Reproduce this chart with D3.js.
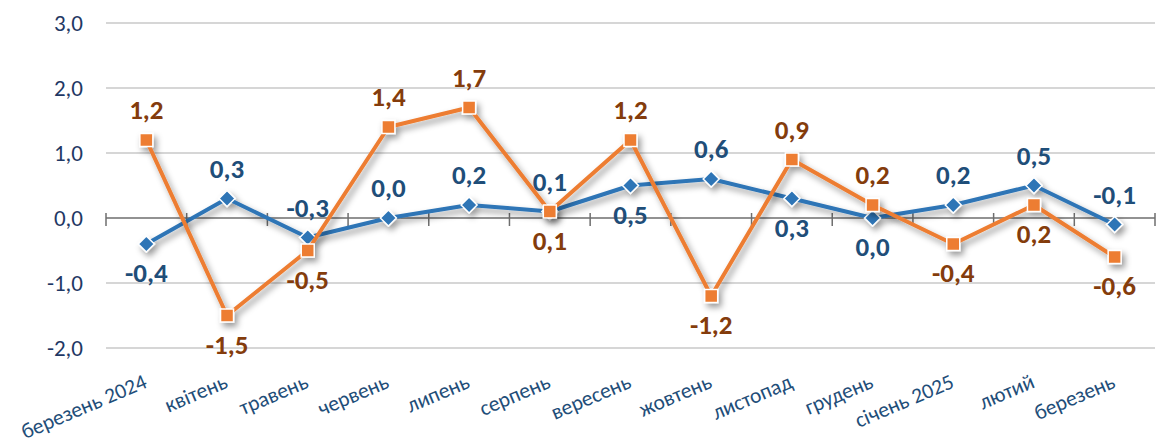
<!DOCTYPE html>
<html>
<head>
<meta charset="utf-8">
<script src="https://cdn.jsdelivr.net/npm/d3@7"></script>
<style>
  body { margin: 0; background: #fff; }
  svg { display: block; font-family: Carlito, Calibri, Lato, sans-serif; }
</style>
</head>
<body>
<svg width="1157" height="446"></svg>
<script>
// months on the x axis
const categories = ["березень 2024", "квітень", "травень", "червень", "липень", "серпень",
    "вересень", "жовтень", "листопад", "грудень", "січень 2025", "лютий", "березень"];
// blue series (diamonds)
const blueValues = [-0.4, 0.3, -0.3, 0.0, 0.2, 0.1, 0.5, 0.6, 0.3, 0.0, 0.2, 0.5, -0.1];
// orange series (squares)
const orangeValues = [1.2, -1.5, -0.5, 1.4, 1.7, 0.1, 1.2, -1.2, 0.9, 0.2, -0.4, 0.2, -0.6];
// which side of the point each data label sits on
const blueLabelSide = ["below", "above", "above", "above", "above", "above", "below",
    "above", "below", "below", "above", "above", "above"];
const orangeLabelSide = ["above", "below", "below", "above", "above", "below", "above",
    "below", "above", "above", "below", "below", "below"];
const yTicks = [-2, -1, 0, 1, 2, 3];

const svg = d3.select("svg");
const fmt = v => d3.format(".1f")(v).replace(".", ",").replace("−", "-");

const x = d3.scaleBand().domain(categories).range([106, 1155]).padding(0);
const y = d3.scaleLinear().domain([-2, 3]).range([348, 23]);
const cx = d => x(d) + x.bandwidth() / 2;

// drop shadow like the office chart
const defs = svg.append("defs");
defs.append("filter")
    .attr("id", "shadow")
    .attr("x", "-20%").attr("y", "-20%").attr("width", "140%").attr("height", "140%")
  .append("feDropShadow")
    .attr("dx", 3).attr("dy", 4)
    .attr("stdDeviation", 3)
    .attr("flood-color", "#000")
    .attr("flood-opacity", 0.4);

// horizontal gridlines (not the zero line)
svg.append("g").selectAll("line")
    .data(yTicks.filter(t => t !== 0))
    .enter().append("line")
    .attr("x1", 106).attr("x2", 1155)
    .attr("y1", d => y(d)).attr("y2", d => y(d))
    .attr("stroke", "#C8C8C8")
    .attr("stroke-width", 1.5);

// y tick labels
svg.append("g").selectAll("text")
    .data(yTicks)
    .enter().append("text")
    .attr("x", 83)
    .attr("y", d => y(d) + 8)
    .attr("text-anchor", "end")
    .attr("fill", "#1F3864")
    .style("font-size", "23px")
    .text(fmt);

// zero axis line with crossing ticks at band boundaries
const axisG = svg.append("g");
axisG.append("line")
    .attr("x1", 106).attr("x2", 1155)
    .attr("y1", y(0)).attr("y2", y(0))
    .attr("stroke", "#6E6E6E")
    .attr("stroke-width", 1.5);
const bounds = categories.map(c => x(c)).concat([x.range()[1]]);
axisG.selectAll(".tick")
    .data(bounds)
    .enter().append("line")
    .attr("class", "tick")
    .attr("x1", d => d).attr("x2", d => d)
    .attr("y1", y(0) - 5).attr("y2", y(0) + 8)
    .attr("stroke", "#6E6E6E")
    .attr("stroke-width", 1.5);

// x labels, rotated, below the plot
svg.append("g").selectAll("text")
    .data(categories)
    .enter().append("text")
    .attr("transform", d => `translate(${cx(d) + 2},387) rotate(-23)`)
    .attr("text-anchor", "end")
    .attr("fill", "#1F4E79")
    .style("font-size", "21.5px")
    .text(d => d);

const line = d3.line()
    .x((d, i) => cx(categories[i]))
    .y(d => y(d));

function drawSeries(values, color, marker) {
    const g = svg.append("g").attr("filter", "url(#shadow)");
    g.append("path")
        .datum(values)
        .attr("fill", "none")
        .attr("stroke", color)
        .attr("stroke-width", 4)
        .attr("stroke-linejoin", "round")
        .attr("d", line);
    g.selectAll(".marker")
        .data(values)
        .enter().append("path")
        .attr("class", "marker")
        .attr("transform", (d, i) => `translate(${cx(categories[i])},${y(d)})`)
        .attr("d", marker)
        .attr("fill", color)
        .attr("stroke", "#fff")
        .attr("stroke-width", 1.5);
}

drawSeries(blueValues, "#2E75B6", "M0,-8L8,0L0,8L-8,0Z");
drawSeries(orangeValues, "#ED7D31", "M-6.5,-6.5H6.5V6.5H-6.5Z");

function drawLabels(values, sides, color) {
    svg.append("g").selectAll("text")
        .data(values)
        .enter().append("text")
        .attr("x", (d, i) => cx(categories[i]))
        .attr("y", (d, i) => sides[i] === "above" ? y(d) - 21 : y(d) + 38)
        .attr("text-anchor", "middle")
        .attr("fill", color)
        .style("font-size", "27px")
        .style("font-weight", "bold")
        .text(fmt);
}

drawLabels(blueValues, blueLabelSide, "#1F4E79");
drawLabels(orangeValues, orangeLabelSide, "#843C0C");
</script>
</body>
</html>
